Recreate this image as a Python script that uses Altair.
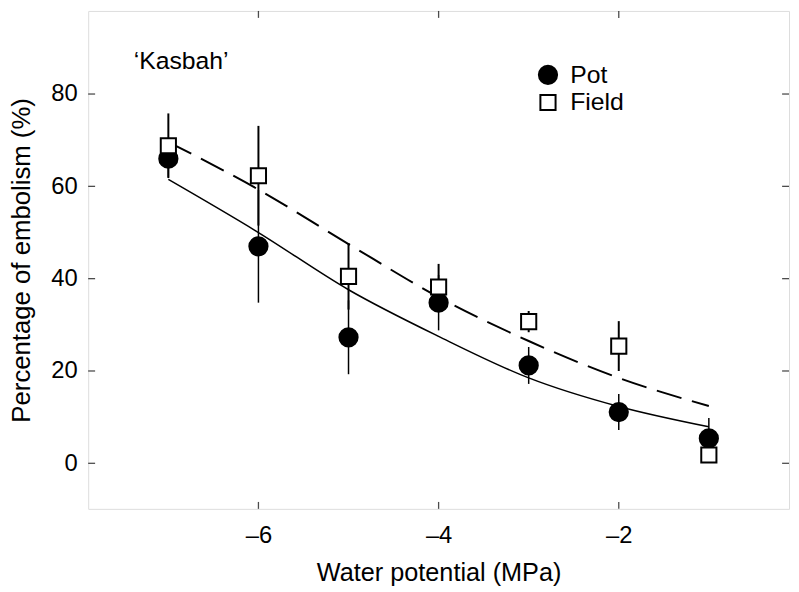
import altair as alt
import pandas as pd

# ---- data ----
x_vals = [-7, -6, -5, -4, -3, -2, -1]
pot_mean = [66.0, 47.0, 27.3, 34.8, 21.2, 11.1, 5.4]
pot_err = [4.0, 12.2, 8.0, 6.0, 4.0, 3.9, 4.4]
field_mean = [68.8, 62.3, 40.5, 38.2, 30.7, 25.4, 1.8]
field_err = [7.0, 10.8, 7.2, 5.0, 2.3, 5.4, 1.0]
pot_fit = [61.5, 50.0, 37.6, 27.5, 18.5, 12.3, 7.9]
field_fit = [69.6, 59.3, 47.5, 36.0, 26.5, 18.5, 12.4]
series_names = ["Pot", "Field"]
x_ticks = [-6, -4, -2]
y_ticks = [0, 20, 40, 60, 80]
x_domain = [-7.89, -0.11]
y_domain = [-9.87, 98.0]
annot_text = ["\u2018Kasbah\u2019"]
annot_x = [-7.385]
annot_y = [85.5]

X_TITLE = "Water potential (MPa)"
Y_TITLE = "Percentage of embolism (%)"
FONT = "Liberation Sans"

# ---- tables ----
rows = []
for s, m, e in (("Pot", pot_mean, pot_err), ("Field", field_mean, field_err)):
    for xv, mv, ev in zip(x_vals, m, e):
        rows.append({"series": s, "x": xv, "y": mv, "lo": mv - ev, "hi": mv + ev})
pts = pd.DataFrame(rows)

fit_rows = []
for s, f in (("Pot", pot_fit), ("Field", field_fit)):
    for xv, fv in zip(x_vals, f):
        fit_rows.append({"series": s, "x": xv, "y": fv})
fits = pd.DataFrame(fit_rows)

xscale = alt.Scale(domain=x_domain, nice=False, zero=False)
yscale = alt.Scale(domain=y_domain, nice=False, zero=False)
xaxis = alt.Axis(values=x_ticks, grid=False, ticks=False, domain=False,
                 labelExpr="'\u2013' + format(abs(datum.value), 'd')",
                 labelPadding=15, labelFontSize=24, titleFontSize=25.5,
                 titleFontWeight="normal", titleFont=FONT, labelFont=FONT,
                 titleBaseline="alphabetic", titleY=72)
yaxis = alt.Axis(values=y_ticks, grid=False, ticks=False, domain=False,
                 labelPadding=11, labelFontSize=24, titleFontSize=26,
                 titleFontWeight="normal", titleFont=FONT, labelFont=FONT,
                 titleAngle=270, titleBaseline="middle", titleAlign="center",
                 titleX=-67, titleY=251.5)


def X(f):
    return alt.X(f"{f}:Q", scale=xscale, axis=xaxis, title=X_TITLE)


def Y(f):
    return alt.Y(f"{f}:Q", scale=yscale, axis=yaxis, title=Y_TITLE)


fit_pot = alt.Chart(fits[fits.series == "Pot"]).mark_line(
    color="black", strokeWidth=1.5, interpolate="monotone"
).encode(x=X("x"), y=Y("y"))

fit_field = alt.Chart(fits[fits.series == "Field"]).mark_line(
    color="black", strokeWidth=2, strokeDash=[26, 11], interpolate="monotone"
).encode(x=X("x"), y=Y("y"))

err_pot = alt.Chart(pts[pts.series == "Pot"]).mark_rule(
    color="black", strokeWidth=1.5
).encode(x=X("x"), y=Y("lo"), y2="hi:Q")

err_field = alt.Chart(pts[pts.series == "Field"]).mark_rule(
    color="black", strokeWidth=2
).encode(x=X("x"), y=Y("lo"), y2="hi:Q")

leg = alt.Legend(orient="none", legendX=452, legendY=52, title=None,
                 labelFontSize=25, labelFont=FONT, labelOffset=10, rowPadding=2,
                 padding=0, symbolStrokeWidth=2)

points = alt.Chart(pts).mark_point(
    strokeWidth=2, opacity=1, fillOpacity=1, strokeOpacity=1
).encode(
    x=X("x"), y=Y("y"),
    shape=alt.Shape("series:N", sort=series_names,
                    scale=alt.Scale(domain=series_names, range=["circle", "square"]),
                    legend=leg),
    fill=alt.Fill("series:N", sort=series_names,
                  scale=alt.Scale(domain=series_names, range=["black", "white"]),
                  legend=leg),
    stroke=alt.Stroke("series:N", sort=series_names,
                      scale=alt.Scale(domain=series_names, range=["black", "black"]),
                      legend=leg),
    size=alt.Size("series:N", sort=series_names,
                  scale=alt.Scale(domain=series_names, range=[340, 235]),
                  legend=leg),
)

# inward ticks on all four sides of the frame
tb = pd.DataFrame({"x": x_ticks * 2,
                   "y": [y_domain[0]] * len(x_ticks) + [y_domain[1]] * len(x_ticks),
                   "side": ["b"] * len(x_ticks) + ["t"] * len(x_ticks)})
lr = pd.DataFrame({"y": y_ticks * 2,
                   "x": [x_domain[0]] * len(y_ticks) + [x_domain[1]] * len(y_ticks),
                   "side": ["l"] * len(y_ticks) + ["r"] * len(y_ticks)})

tick_b = alt.Chart(tb[tb.side == "b"]).mark_tick(
    orient="vertical", size=7, thickness=1.3, yOffset=-3.5, color="black"
).encode(x=X("x"), y=Y("y"))
tick_t = alt.Chart(tb[tb.side == "t"]).mark_tick(
    orient="vertical", size=7, thickness=1.3, yOffset=3.5, color="black"
).encode(x=X("x"), y=Y("y"))
tick_l = alt.Chart(lr[lr.side == "l"]).mark_tick(
    orient="horizontal", size=7, thickness=1.3, xOffset=3.5, color="black"
).encode(x=X("x"), y=Y("y"))
tick_r = alt.Chart(lr[lr.side == "r"]).mark_tick(
    orient="horizontal", size=7, thickness=1.3, xOffset=-3.5, color="black"
).encode(x=X("x"), y=Y("y"))

annot = alt.Chart(pd.DataFrame({"x": annot_x, "y": annot_y, "t": annot_text})).mark_text(
    align="left", baseline="alphabetic", fontSize=25, font=FONT, color="black"
).encode(x=X("x"), y=Y("y"), text="t:N")

chart = alt.layer(
    fit_pot, fit_field, err_pot, err_field, points,
    tick_b, tick_t, tick_l, tick_r, annot
).properties(
    width=708, height=503,
    autosize=alt.AutoSizeParams(type="none"),
    padding={"left": 81, "top": 0, "right": 2, "bottom": 80},
).configure_view(
    stroke="black", strokeWidth=1.3, fill="white"
).configure_axis(
    labelFont=FONT, titleFont=FONT, labelColor="black", titleColor="black",
    titleFontWeight="normal"
).configure_legend(
    labelFont=FONT, labelColor="black"
).configure(background="white")

chart.save("out.html", embed_options={"renderer": "svg", "actions": False})
